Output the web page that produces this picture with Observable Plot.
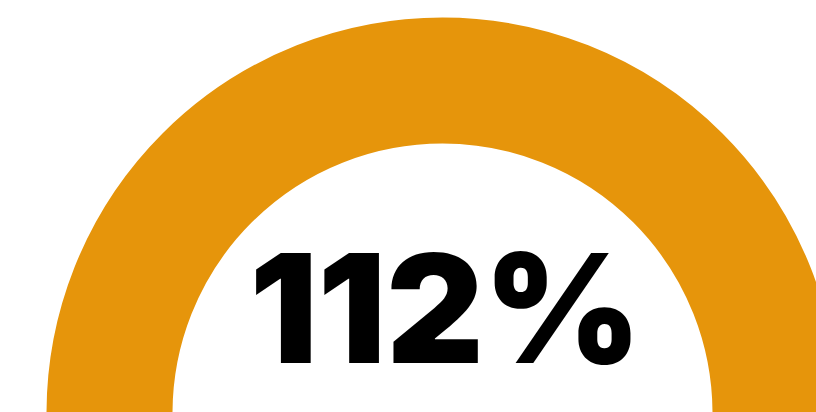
<!DOCTYPE html>
<html>
<head>
<meta charset="utf-8">
<script src="https://cdn.jsdelivr.net/npm/d3@7"></script>
<script src="https://cdn.jsdelivr.net/npm/@observablehq/plot@0.6"></script>
<style>
  html, body { margin: 0; padding: 0; background: #fff; overflow: hidden; }
  #chart svg { display: block; overflow: hidden; }
</style>
</head>
<body>
<div id="chart"></div>
<script>
// Data
const labels = ["Progress"];
const values = [112];          // percent
const ringColor = "#E6950B";

const data = labels.map((l, i) => ({label: l, value: values[i], cx: 0, cy: 0}));

const outerR = 396, innerR = 270;

const chart = Plot.plot({
  width: 816,
  height: 412,
  margin: 0,
  x: {domain: [-442, 374], axis: null},
  y: {domain: [1, 413], axis: null},
  marks: [
    Plot.dot(data, {
      x: "cx", y: "cy",
      r: (outerR + innerR) / 2,
      fill: "none",
      stroke: ringColor,
      strokeWidth: outerR - innerR
    }),
    Plot.text(data, {
      x: "cx", y: "cy",
      text: d => `${d.value}%`,
      textAnchor: "middle",
      lineAnchor: "bottom",
      dx: 3,
      dy: -51,
      fontSize: 151,
      fontWeight: 900,
      fontFamily: "Inter, Lato, 'DejaVu Sans', sans-serif",
      fill: "#000"
    })
  ]
});
document.getElementById("chart").appendChild(chart);
</script>
</body>
</html>
